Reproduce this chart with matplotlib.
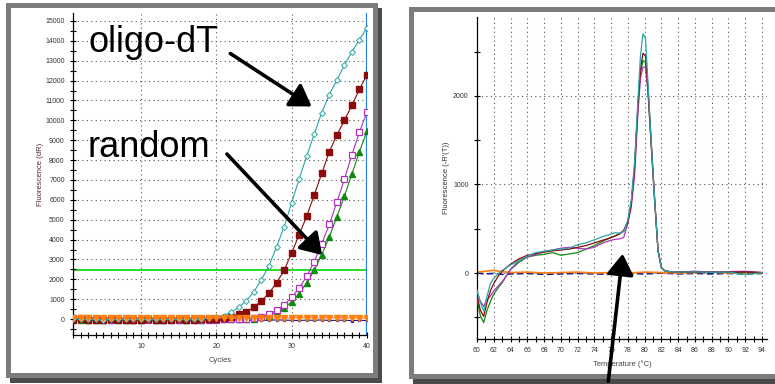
import matplotlib
matplotlib.use("Agg")
import matplotlib.pyplot as plt
from matplotlib.patches import Rectangle, FancyArrowPatch
from matplotlib.ticker import MultipleLocator

plt.rcParams['font.family'] = ['Liberation Sans', 'DejaVu Sans']

W, H = 775, 384

# --- amplification plot (left) ---
cycles = list(range(1, 41))
amp_oligo_dt = [20, 10, 0, -20, -30, -20, -10, 0, -10, -20, -10, 0, -10, -20, -10, 0, 10, 20, 40,
                100, 180, 350, 600, 920, 1380, 1980, 2690, 3630, 4640, 5850, 7060, 8200, 9310,
                10390, 11290, 12030, 12770, 13450, 14050, 14670]
amp_red = [-30, -20, -40, -50, -30, -20, -40, -60, -40, -30, -20, -40, -50, -30, -20, -30, -40, -20,
           -10, 0, 50, 130, 240, 350, 610, 910, 1310, 1820, 2450, 3330, 4240, 5180, 6240, 7330,
           8420, 9260, 10000, 10760, 11560, 12300]
amp_purple = [50, 80, 60, 20, -40, -60, -50, -40, -60, -50, -40, -60, -50, -40, -50, -60, -40, -50,
              -40, -30, -20, -10, 0, 20, 50, 130, 250, 440, 710, 1090, 1560, 2150, 2890, 3800,
              4760, 5880, 7030, 8270, 9410, 10420]
amp_green = [-20, -30, -40, -60, -50, -30, -20, -40, -50, -30, -20, -40, -30, -20, -40, -30, -20, -30,
             -20, -10, 0, 0, 10, 20, 30, 100, 180, 340, 550, 870, 1280, 1820, 2450, 3240, 4130,
             5140, 6180, 7310, 8420, 9460]
amp_ntc_orange = [60, 80, 50, 40, 60, 50, 60, 70, 60, 50, 60, 70, 60, 50, 60, 50, 60, 70, 60, 50,
                  60, 50, 40, 60, 50, 70, 60, 50, 60, 50, 60, 70, 60, 50, 60, 70, 60, 50, 60, 50]
amp_ntc_navy = [-50, -40, -60, -80, -70, -50, -60, -40, -50, -60, -70, -50, -40, -60, -70, -50, -60,
                -40, -50, -60, -70, -50, -40, -60, -50, -70, -60, -40, -50, -60, -70, -50, -60, -40,
                -70, -60, -50, -80, -60, -70]
threshold = 2470

# --- melt curve (right) ---
temps = [60.0, 60.4, 60.8, 61.2, 61.6, 62.0, 62.5, 63.0, 64, 65, 66, 67, 68, 69, 70, 71, 72, 73, 74,
         75, 76, 76.5, 77, 77.5, 78.0, 78.4, 78.8, 79.2, 79.5, 79.8, 80.1, 80.4, 80.8, 81.2, 81.6,
         82.0, 82.4, 83, 84, 86, 88, 90, 92, 94]
melt_cyan = [-190, -330, -430, -260, -120, -60, -10, 30, 90, 140, 190, 230, 245, 260, 270, 280, 320,
             340, 375, 410, 440, 455, 450, 470, 600, 820, 1250, 1950, 2450, 2700, 2650, 2150, 1450,
             820, 250, 60, 25, 15, 10, 12, 8, 10, -20, 5]
melt_green = [-300, -480, -560, -420, -320, -240, -170, -110, 40, 120, 180, 200, 210, 230, 200, 215,
              230, 270, 310, 360, 400, 420, 445, 470, 580, 790, 1180, 1870, 2250, 2400, 2380, 2050,
              1400, 800, 250, 60, 25, 15, 10, 8, 10, 5, 10, 5]
melt_purple = [-220, -320, -375, -300, -260, -200, -150, -100, 40, 140, 180, 210, 240, 260, 280, 290,
               280, 270, 290, 340, 370, 380, 385, 400, 560, 740, 1100, 1800, 2200, 2320, 2330, 2050,
               1450, 830, 260, 60, 25, 15, 10, 20, 10, 15, 20, 5]
melt_red = [-250, -420, -490, -330, -200, -120, -40, 20, 100, 160, 200, 220, 235, 250, 260, 270, 290,
            310, 340, 370, 400, 420, 440, 480, 580, 780, 1200, 1900, 2300, 2480, 2450, 2100, 1450,
            820, 250, 60, 25, 15, 10, 10, 8, 10, 12, 5]
temps_flat = [60, 61, 62, 63, 64, 66, 68, 70, 72, 74, 76, 78, 80, 82, 84, 86, 88, 90, 92, 94]
melt_flat_orange = [10, 20, 30, 15, 5, 10, 0, 5, 10, 0, 5, 0, 10, 5, 0, 5, 10, 0, 5, 0]
melt_flat_navy = [0, -10, -5, -15, -10, -5, -15, -10, -5, -10, -15, -5, -10, 0, -10, -5, -10, -5, -10, -5]

C_CYAN = '#2aa5a5'
C_RED = '#8b0a0a'
C_PURPLE = '#b030c0'
C_GREEN = '#108a10'
C_ORANGE = '#ff7f10'
C_NAVY = '#1a1a8c'
GRID = dict(color='#555555', linestyle=(0, (1, 3)), linewidth=0.8)


def fx(x):
    return x / W


def fy(y):
    return 1 - y / H


def box(x0, y0, x1, y1, color):
    # rectangle given in pixel corners (y down), clipped to the canvas
    x1 = min(x1, W)
    fig.add_artist(Rectangle((fx(x0), fy(y1)), fx(x1 - x0), (y1 - y0) / H,
                             transform=fig.transFigure, color=color, zorder=0, lw=0))


def panel(x0, y0, x1, y1):
    # drop shadow, grey border, white inside
    box(x0 + 4, y0 + 5, x1 + 4, y1 + 5, '#4a4a4a')
    box(x0, y0, x1, y1, '#7c7c7c')
    box(x0 + 5, y0 + 5, x1 - 5, y1 - 5, 'white')


def style_axes(ax):
    ax.set_facecolor('none')
    for s in ('top', 'right'):
        ax.spines[s].set_visible(False)
    for s in ('left', 'bottom'):
        ax.spines[s].set_linewidth(0.9)
    ax.tick_params(which='both', direction='inout', labelsize=5, labelcolor='#333333', width=0.8)
    ax.tick_params(which='major', length=5)
    ax.tick_params(which='minor', length=4)


fig = plt.figure(figsize=(W / 100, H / 100), dpi=100)
panel(6, 3, 378, 378)
panel(409, 7, 900, 379)

# left: amplification plot
ax1 = fig.add_axes([fx(73), fy(335), fx(367 - 73), (335 - 13) / H])
style_axes(ax1)
ax1.set_xlim(1, 40)
ax1.set_ylim(-800, 15400)
ax1.xaxis.set_major_locator(MultipleLocator(10))
ax1.xaxis.set_minor_locator(MultipleLocator(1))
ax1.yaxis.set_major_locator(MultipleLocator(1000))
ax1.yaxis.set_minor_locator(MultipleLocator(500))
for v in range(1000, 15001, 1000):
    ax1.axhline(v, zorder=0, **GRID)
for c in (10, 20, 30):
    ax1.axvline(c, zorder=0, **GRID)
ax1.axhline(threshold, color='#22e022', lw=1.4, zorder=1)
ax1.axvline(40, color='#1f7fef', lw=1.6, zorder=1)

ax1.plot(cycles, amp_ntc_navy, color=C_NAVY, lw=0.8, marker='o', ms=1.5, zorder=2)
ax1.plot(cycles, amp_green, color=C_GREEN, lw=0.8, marker='^', ms=4, zorder=3)
ax1.plot(cycles, amp_purple, color=C_PURPLE, lw=0.8, marker='s', ms=4.5, mfc='white', mew=0.9, zorder=3)
ax1.plot(cycles, amp_red, color=C_RED, lw=0.8, marker='s', ms=4.3, zorder=3)
ax1.plot(cycles, amp_oligo_dt, color=C_CYAN, lw=0.8, marker='D', ms=3, mfc='white', mew=0.7, zorder=3)
ax1.plot(cycles, amp_ntc_orange, color=C_ORANGE, lw=0.8, marker='v', ms=5, zorder=4)

ax1.set_xlabel('Cycles', fontsize=5.5, color='#444444', labelpad=5)
ax1.set_ylabel('Fluorescence (dR)', fontsize=5.5, color='#4a2a2a', labelpad=0.5)

# right: melt curve
ax2 = fig.add_axes([fx(477), fy(339), fx(767 - 477), (339 - 17) / H])
style_axes(ax2)
ax2.set_xlim(60, 94.6)
ax2.set_ylim(-745, 2890)
ax2.xaxis.set_major_locator(MultipleLocator(2))
ax2.xaxis.set_minor_locator(MultipleLocator(1))
ax2.yaxis.set_major_locator(MultipleLocator(1000))
ax2.yaxis.set_minor_locator(MultipleLocator(500))
for v in (0, 1000, 2000):
    ax2.axhline(v, zorder=0, **GRID)
for t in range(62, 95, 2):
    ax2.axvline(t, zorder=0, **GRID)

ax2.plot(temps_flat, melt_flat_navy, color=C_NAVY, lw=1.2, ls=(0, (4, 2)), zorder=2)
ax2.plot(temps_flat, melt_flat_orange, color=C_ORANGE, lw=1.2, zorder=2)
ax2.plot(temps, melt_green, color=C_GREEN, lw=0.9, zorder=3)
ax2.plot(temps, melt_purple, color=C_PURPLE, lw=0.9, zorder=3)
ax2.plot(temps, melt_red, color=C_RED, lw=0.9, zorder=3)
ax2.plot(temps, melt_cyan, color=C_CYAN, lw=0.9, zorder=3)

ax2.set_xlabel('Temperature (°C)', fontsize=5.5, color='#444444', labelpad=4)
ax2.set_ylabel("Fluorescence (-R'(T))", fontsize=5.5, color='#333333', labelpad=2)

# annotations
fig.text(fx(88), fy(52), 'oligo-dT', fontsize=26, va='baseline', ha='left', color='black')
fig.text(fx(88), fy(157), 'random', fontsize=26, va='baseline', ha='left', color='black')

arrow_kw = dict(transform=fig.transFigure, arrowstyle='-|>,head_length=0.7,head_width=0.45',
                mutation_scale=18, lw=2.6, color='black', zorder=10)
fig.add_artist(FancyArrowPatch((fx(228), fy(52)), (fx(314), fy(108)), **arrow_kw))
fig.add_artist(FancyArrowPatch((fx(225), fy(152)), (fx(324), fy(257)), **arrow_kw))
fig.add_artist(FancyArrowPatch((fx(608), fy(384)), (fx(623), fy(251)), **arrow_kw))

fig.savefig('out.png', dpi=100)
